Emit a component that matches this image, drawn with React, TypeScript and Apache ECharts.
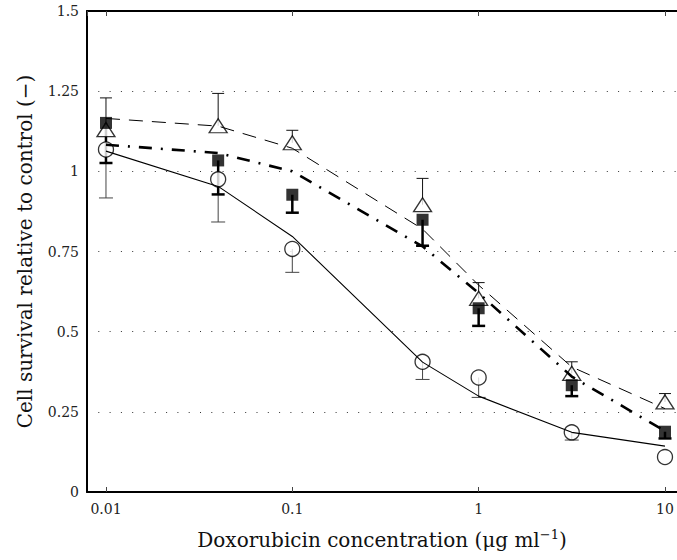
import React, { useEffect, useRef } from "react";
import * as echarts from "echarts";

// Doxorubicin concentration (µg/ml)
const conc = [0.01, 0.04, 0.1, 0.5, 1, 3.16, 10];

// open circles, solid fit
const circleMean = [1.068, 0.975, 0.758, 0.406, 0.357, 0.186, 0.109];
const circleErrLow = [0.917, 0.842, 0.685, 0.351, 0.295, 0.162, null];
const circleFit = [1.063, 0.953, 0.797, 0.405, 0.299, 0.186, 0.143];

// filled squares, dash-dot fit
const squareMean = [1.151, 1.034, 0.927, 0.849, 0.573, 0.333, 0.188];
const squareErrLow = [1.026, 0.928, 0.871, 0.768, 0.518, 0.299, 0.167];
const squareFit = [1.083, 1.057, 1.0, 0.766, 0.62, 0.36, 0.19];

// open triangles, dashed fit
const triangleMean = [1.13, 1.142, 1.089, 0.896, 0.604, 0.37, 0.281];
const triangleErrHigh = [1.229, 1.243, 1.128, 0.978, 0.653, 0.406, 0.307];
const triangleFit = [1.165, 1.141, 1.072, 0.82, 0.645, 0.39, 0.26];

const xTickValues = [0.01, 0.1, 1, 10];

const FONT = "DejaVu Serif";

function pairs(xs: number[], ys: (number | null)[]) {
  return xs.map((x, i) => [x, ys[i]]);
}

function errData(xs: number[], ys: number[], es: (number | null)[]) {
  return xs
    .map((x, i) => (es[i] == null ? null : [x, ys[i], es[i]]))
    .filter((d) => d != null);
}

function errorBarSeries(data: any[], color: string, width: number, halfCap: number) {
  return {
    type: "custom",
    silent: true,
    z: 2,
    encode: { x: 0, y: 1 },
    data,
    renderItem: (params: any, api: any) => {
      const x = api.value(0);
      const y = api.value(1);
      const e = api.value(2);
      const p1 = api.coord([x, y]);
      const p2 = api.coord([x, e]);
      const style = { stroke: color, lineWidth: width, fill: "none" };
      return {
        type: "group",
        children: [
          { type: "line", shape: { x1: p1[0], y1: p1[1], x2: p2[0], y2: p2[1] }, style },
          { type: "line", shape: { x1: p2[0] - halfCap, y1: p2[1], x2: p2[0] + halfCap, y2: p2[1] }, style },
        ],
      };
    },
  };
}

export default function App() {
  const ref = useRef<HTMLDivElement>(null);

  useEffect(() => {
    if (!ref.current) return;
    const chart = echarts.init(ref.current, null, { renderer: "svg" });
    const xMin = 0.00791;
    const xMax = 11.6;
    const fmtX = (v: number) => {
      const r = xTickValues.find((t) => Math.abs(Math.log10(t) - Math.log10(v)) < 1e-6);
      return r != null ? String(r) : "";
    };
    const option: any = {
      animation: false,
      backgroundColor: "#ffffff",
      grid: { left: 87, right: 0, top: 11, bottom: 68, containLabel: false },
      xAxis: [
        {
          type: "log",
          logBase: 10,
          min: xMin,
          max: xMax,
          position: "bottom",
          name: "Doxorubicin concentration (μg ml{sup|−1})",
          nameLocation: "middle",
          nameGap: 36,
          nameTextStyle: {
            fontFamily: FONT,
            fontSize: 20,
            color: "#111",
            rich: {
              sup: { fontFamily: FONT, fontSize: 13, color: "#111", padding: [0, 0, 11, 0] },
            },
          },
          axisLine: { show: true, lineStyle: { color: "#000", width: 2 } },
          axisTick: { show: true, inside: true, length: 5, lineStyle: { color: "#444", width: 1 } },
          minorTick: { show: false },
          splitLine: { show: false },
          axisLabel: {
            fontFamily: FONT,
            fontSize: 14,
            color: "#222",
            margin: 10,
            showMinLabel: false,
            showMaxLabel: false,
            formatter: fmtX,
          },
        },
        {
          type: "log",
          logBase: 10,
          min: xMin,
          max: xMax,
          position: "top",
          axisLine: { show: true, lineStyle: { color: "#000", width: 2 } },
          axisTick: { show: true, inside: true, length: 5, lineStyle: { color: "#444", width: 1 } },
          axisLabel: { show: false },
          splitLine: { show: false },
        },
      ],
      yAxis: {
        type: "value",
        min: 0,
        max: 1.5,
        interval: 0.25,
        name: "Cell survival relative to control (−)",
        nameLocation: "middle",
        nameGap: 52,
        nameTextStyle: { fontFamily: FONT, fontSize: 20, color: "#111" },
        axisLine: { show: true, lineStyle: { color: "#000", width: 2 } },
        axisTick: { show: false },
        axisLabel: { fontFamily: FONT, fontSize: 14, color: "#222", margin: 8 },
        splitLine: { show: true, lineStyle: { color: "#333", width: 1, type: [1, 10.3] } },
      },
      series: [
        errorBarSeries(errData(conc, triangleMean, triangleErrHigh), "#111", 1, 6),
        errorBarSeries(errData(conc, circleMean, circleErrLow), "#444", 1, 7),
        errorBarSeries(errData(conc, squareMean, squareErrLow), "#000", 2.5, 6.5),
        {
          type: "scatter",
          data: pairs(conc, triangleMean),
          symbol: "triangle",
          symbolSize: [18, 14],
          itemStyle: { color: "#fff", borderColor: "#000", borderWidth: 1.3 },
          z: 3,
          silent: true,
        },
        {
          type: "scatter",
          data: pairs(conc, circleMean),
          symbol: "circle",
          symbolSize: 15,
          itemStyle: { color: "#fff", borderColor: "#000", borderWidth: 1.3 },
          z: 3,
          silent: true,
        },
        {
          type: "scatter",
          data: pairs(conc, squareMean),
          symbol: "rect",
          symbolSize: 12,
          itemStyle: { color: "#000", borderColor: "#000", borderWidth: 0 },
          z: 4,
          silent: true,
        },
        {
          type: "line",
          data: pairs(conc, circleFit),
          showSymbol: false,
          symbol: "none",
          lineStyle: { color: "#000", width: 1.1, type: "solid" },
          z: 5,
          silent: true,
        },
        {
          type: "line",
          data: pairs(conc, squareFit),
          showSymbol: false,
          symbol: "none",
          lineStyle: { color: "#000", width: 2.6, type: [13, 9, 2, 9] },
          z: 5,
          silent: true,
        },
        {
          type: "line",
          data: pairs(conc, triangleFit),
          showSymbol: false,
          symbol: "none",
          lineStyle: { color: "#000", width: 1, type: [14, 9] },
          z: 5,
          silent: true,
        },
      ],
    };
    chart.setOption(option);
    return () => chart.dispose();
  }, []);

  return (
    <div
      ref={ref}
      style={{ position: "fixed", left: 0, top: 0, width: 677, height: 560, background: "#fff" }}
    />
  );
}
